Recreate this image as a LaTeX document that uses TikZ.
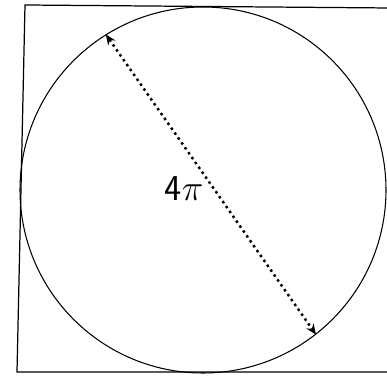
\documentclass[tikz,border=0pt]{standalone}
\usepackage{tikz}
\usetikzlibrary{arrows.meta,positioning}

\begin{document}
\begin{tikzpicture}
    \useasboundingbox (0,0) rectangle (7.74,7.54);
    \clip (0,0) rectangle (7.74,7.54);
    \draw[line width=0.7pt] (0.50,7.44) -- (0.34,0.10) -- (7.80,0.10) -- (7.80,7.38) -- cycle;
    \node[draw, circle, line width=0.6pt, minimum size=7.32cm, inner sep=0pt] (disc) at (4.06,3.74) {};
    \draw[{Stealth[length=6pt,width=5pt]}-{Stealth[length=6pt,width=5pt]}, line width=1.4pt, dotted] (disc.122) -- (disc.-52);
    \node[font=\huge\sffamily] (len) at (3.68,3.76) {4$\pi$};
  \end{tikzpicture}
\end{document}
